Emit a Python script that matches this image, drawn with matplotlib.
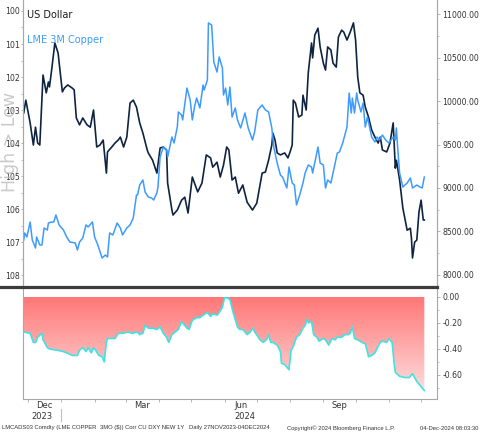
import matplotlib
matplotlib.use('Agg')
import matplotlib.pyplot as plt
import matplotlib.dates as mdates
from matplotlib.colors import LinearSegmentedColormap
from matplotlib.lines import Line2D
import numpy as np
import pandas as pd

start = pd.Timestamp('2023-11-27')

# US Dollar index (left axis, inverted) - days after start
usd_days = [0, 2, 6, 9, 11, 13, 15, 18, 21, 23, 24, 26, 29, 32, 36, 38, 41, 45, 47, 49,
            52, 55, 59, 62, 65, 68, 71, 74, 77, 78, 82, 85, 88, 90, 93, 96, 99, 102, 105, 108,
            111, 115, 116, 120, 124, 127, 130, 133, 134, 138, 139, 143, 147, 150, 153, 157, 159, 162, 166, 170,
            174, 176, 180, 183, 186, 189, 191, 194, 197, 200, 204, 208, 213, 217, 222, 225, 228, 231, 232, 234,
            236, 239, 243, 246, 248, 250, 251, 253, 256, 259, 260, 263, 265, 268, 269, 271, 274, 276, 279, 281,
            283, 286, 288, 291, 293, 296, 298, 301, 304, 307, 309, 311, 313, 316, 318, 321, 324, 327, 330, 332,
            334, 338, 341, 344, 346, 347, 350, 353, 357, 360, 361, 362, 364, 366, 368, 370, 372, 373]
usd_vals = [103.09, 102.70, 103.39, 104.06, 103.52, 104.00, 104.06, 101.94, 102.48, 102.15,
            102.30, 101.79, 100.97, 101.27, 102.45, 102.33, 102.24, 102.33, 102.39, 103.24,
            103.45, 103.24, 103.45, 103.52, 103.00, 104.12, 104.06, 103.91, 104.91, 104.27,
            104.12, 104.00, 103.91, 103.82, 104.12, 103.82, 102.79, 102.70, 102.91, 103.39,
            103.70, 104.21, 104.30, 104.52, 104.91, 104.15, 104.12, 104.21, 105.21, 106.03,
            106.18, 106.03, 105.73, 105.64, 106.12, 105.03, 105.21, 105.48, 105.21, 104.36,
            104.45, 104.73, 104.58, 105.03, 104.67, 104.12, 104.21, 105.12, 105.03, 105.52,
            105.27, 105.79, 106.03, 105.82, 104.91, 104.88, 104.52, 104.06, 103.70, 103.91,
            104.30, 104.36, 104.30, 104.45, 104.27, 104.06, 102.70, 102.79, 103.21, 103.15,
            102.55, 103.00, 101.85, 100.97, 101.42, 100.73, 100.52, 101.09, 101.58, 101.79,
            101.09, 101.18, 101.58, 101.70, 100.79, 100.58, 100.64, 100.88, 100.64, 100.36,
            100.88, 102.00, 102.48, 102.55, 102.91, 103.21, 103.61, 103.82, 104.00, 103.82,
            104.21, 104.27, 104.00, 103.39, 104.76, 104.52, 105.12, 105.97, 106.64, 106.58,
            106.88, 107.48, 107.00, 106.94, 106.09, 105.73, 106.33, 106.33]

# LME 3M Copper (right axis)
cu_days = [0, 1, 3, 6, 8, 11, 12, 15, 17, 19, 22, 23, 26, 28, 30, 33, 37, 40, 43, 48,
           50, 52, 55, 58, 60, 64, 66, 69, 73, 76, 78, 80, 83, 87, 90, 92, 96, 99, 102, 105,
           106, 108, 111, 113, 116, 119, 121, 124, 125, 127, 130, 133, 134, 138, 140, 143, 144, 147, 148, 152,
           155, 157, 159, 161, 164, 167, 168, 171, 172, 175, 177, 180, 182, 185, 186, 188, 190, 192, 194, 197,
           199, 202, 206, 209, 213, 215, 218, 222, 225, 228, 231, 233, 236, 239, 241, 245, 247, 250, 252, 254,
           257, 260, 262, 265, 268, 269, 274, 276, 279, 281, 283, 286, 288, 292, 294, 297, 301, 303, 305, 306,
           308, 310, 311, 314, 316, 318, 320, 324, 327, 329, 331, 334, 337, 340, 344, 346, 347, 348, 350, 353,
           357, 360, 362, 366, 369, 371, 373]
cu_vals = [8402, 8483, 8437, 8609, 8402, 8310, 8437, 8345, 8345, 8540, 8517, 8598, 8609, 8609, 8690,
           8575, 8517, 8437, 8379, 8368, 8287, 8379, 8425, 8575, 8552, 8609, 8437, 8345, 8195, 8230,
           8207, 8483, 8460, 8598, 8540, 8460, 8540, 8575, 8655, 8920, 8920, 9035, 9092, 8954, 8897,
           8885, 8862, 8943, 9012, 9356, 9471, 9437, 9356, 9586, 9517, 9701, 9874, 9839, 9782, 10149,
           10011, 9782, 9931, 10034, 9920, 10184, 10126, 10241, 10897, 10874, 10448, 10333, 10506, 10379, 10069,
           10149, 9954, 10161, 9816, 9920, 9782, 9690, 9862, 9690, 9552, 9644, 9897, 9954, 9897, 9874,
           9690, 9460, 9287, 9149, 9126, 9000, 9241, 9057, 9034, 8805, 8920, 9057, 9172, 9264, 9241,
           9172, 9471, 9287, 9264, 9000, 9092, 9057, 9172, 9402, 9414, 9517, 9701, 10092, 9862, 10034,
           9862, 10092, 10011, 9874, 9977, 9701, 9816, 9586, 9529, 9586, 9552, 9609, 9552, 9517, 9586,
           9552, 9690, 9494, 9172, 9011, 9057, 9115, 9000, 9034, 9011, 9000, 9126]

# 1Y rolling correlation copper vs DXY (bottom panel)
corr_days = [0, 6, 9, 11, 13, 17, 18, 22, 24, 31, 37, 40, 45, 50, 52, 55, 58, 60, 63, 65,
             67, 70, 73, 75, 77, 78, 81, 85, 88, 92, 97, 101, 106, 108, 111, 113, 116, 120, 124, 127,
             130, 133, 135, 138, 141, 144, 147, 149, 152, 154, 157, 161, 164, 167, 171, 174, 176, 180, 182, 185,
             187, 190, 192, 195, 199, 201, 204, 208, 211, 213, 216, 220, 223, 226, 228, 230, 232, 236, 239, 240,
             243, 245, 247, 249, 251, 254, 257, 260, 262, 264, 265, 268, 270, 273, 275, 279, 281, 284, 287, 290,
             292, 296, 299, 302, 304, 306, 308, 311, 315, 318, 320, 321, 324, 327, 330, 332, 334, 338, 340, 343,
             345, 346, 350, 355, 359, 362, 364, 366, 369, 371, 373]
corr_vals = [-0.27, -0.28, -0.35, -0.35, -0.31, -0.28, -0.33, -0.39, -0.40, -0.41, -0.42, -0.43, -0.45, -0.45,
             -0.41, -0.39, -0.42, -0.39, -0.43, -0.39, -0.41, -0.45, -0.46, -0.50, -0.35, -0.32, -0.32, -0.32,
             -0.28, -0.28, -0.27, -0.28, -0.27, -0.29, -0.28, -0.22, -0.24, -0.24, -0.25, -0.23, -0.28, -0.31,
             -0.35, -0.29, -0.27, -0.25, -0.19, -0.21, -0.24, -0.25, -0.18, -0.16, -0.16, -0.14, -0.12, -0.15,
             -0.13, -0.14, -0.12, -0.08, -0.005, -0.01, -0.02, -0.12, -0.23, -0.25, -0.25, -0.29, -0.27, -0.24,
             -0.28, -0.33, -0.35, -0.33, -0.29, -0.35, -0.35, -0.37, -0.42, -0.51, -0.52, -0.54, -0.56, -0.41,
             -0.38, -0.31, -0.29, -0.24, -0.22, -0.17, -0.20, -0.19, -0.29, -0.31, -0.34, -0.32, -0.33, -0.37,
             -0.32, -0.33, -0.31, -0.31, -0.29, -0.29, -0.28, -0.23, -0.32, -0.33, -0.35, -0.36, -0.42, -0.46,
             -0.45, -0.43, -0.38, -0.35, -0.34, -0.35, -0.32, -0.35, -0.52, -0.58, -0.61, -0.62, -0.62, -0.59,
             -0.62, -0.65, -0.68, -0.70, -0.72]

month_labels = ['Dec', 'Mar', 'Jun', 'Sep']
month_label_dates = ['2023-12-16', '2024-03-16', '2024-06-16', '2024-09-16']
year_labels = ['2023', '2024']
year_label_dates = ['2023-12-14', '2024-06-20']

footer_left = ['LMCADS03 Comdty (LME COPPER', '3MO ($)) Corr CU DXY NEW 1Y',
               'Daily 27NOV2023-04DEC2024', 'Copyright\u00a9 2024 Bloomberg Finance L.P.']
footer_left_pos = [2, 100, 189, 287]
footer_stamp = '04-Dec-2024 08:03:30'

usd_dates = start + pd.to_timedelta(usd_days, unit='D')
cu_dates = start + pd.to_timedelta(cu_days, unit='D')
corr_dates = start + pd.to_timedelta(corr_days, unit='D')

W, H = 480, 432
fig = plt.figure(figsize=(W / 100, H / 100), dpi=100)
fig.patch.set_facecolor('white')

x0 = mdates.date2num(start) - 0.65
x1 = mdates.date2num(start) + 384.8
grey = '#a8a8a8'
txt = '#333333'

# ---- top panel
ax1 = fig.add_axes([23 / W, 1 - 285 / H, 414 / W, 285 / H])
ax2 = ax1.twinx()
ax1.plot(usd_dates, usd_vals, color='#0f2440', lw=1.2, zorder=3)
ax2.plot(cu_dates, cu_vals, color='#3d9bff', lw=1.1)
ax1.set_xlim(x0, x1)
ax1.set_ylim(108.30, 99.667)
ax2.set_ylim(7885, 11161)

for a in (ax1, ax2):
    for s in ('top', 'bottom'):
        a.spines[s].set_visible(False)
    a.spines['left'].set_color(grey)
    a.spines['right'].set_color(grey)
    a.spines['left'].set_linewidth(0.8)
    a.spines['right'].set_linewidth(0.8)
    a.tick_params(axis='x', bottom=False, labelbottom=False)

ax1.set_yticks(np.arange(100, 109, 1))
ax1.set_yticks(np.arange(100.5, 108, 1), minor=True)
ax1.yaxis.set_major_formatter(matplotlib.ticker.FormatStrFormatter('%d'))
ax1.tick_params(axis='y', which='major', length=1.8, width=0.6, color=grey,
                labelcolor=txt, labelsize=5.6, pad=0.6)
ax1.tick_params(axis='y', which='minor', length=1.2, width=0.5, color=grey)

ax2.set_yticks(np.arange(8000, 11001, 500))
ax2.set_yticks(np.arange(8250, 11000, 500), minor=True)
ax2.yaxis.set_major_formatter(matplotlib.ticker.FormatStrFormatter('%.2f'))
ax2.tick_params(axis='y', which='major', length=2.2, width=0.6, color=grey,
                labelcolor=txt, labelsize=5.6, pad=1.6)
ax2.tick_params(axis='y', which='minor', length=1.4, width=0.5, color=grey)

ax1.text(4 / 414, 1 - 15 / 285, 'US Dollar', transform=ax1.transAxes,
         fontsize=7, color='#1a1a1a', va='center', ha='left')
ax1.text(4 / 414, 1 - 40 / 285, 'LME 3M Copper', transform=ax1.transAxes,
         fontsize=7, color='#3d9bff', va='center', ha='left')
# big watermark-like axis note, drawn behind the tick labels as in the source
fig.text(10 / W, 1 - 142 / H, 'High > Low', rotation=90, fontsize=12.5,
         color='#bdbdbd', alpha=0.8, ha='center', va='center', zorder=0)

# separator bar
fig.add_artist(Line2D([0, 437 / W], [1 - 286.5 / H] * 2, lw=2.3, color='#3c3c3c'))

# ---- bottom panel
ax3 = fig.add_axes([23 / W, 1 - 399 / H, 414 / W, 111 / H])
poly = ax3.fill_between(corr_dates, corr_vals, 0, facecolor='none', lw=0)
cmap = LinearSegmentedColormap.from_list('grad', ['#ff7777', '#ffdcdc'])
grad = np.linspace(0, 1, 256).reshape(-1, 1)
im = ax3.imshow(grad, cmap=cmap, aspect='auto', origin='upper', zorder=1,
                extent=[x0, x1, min(corr_vals), 0])
im.set_clip_path(poly.get_paths()[0], ax3.transData)
ax3.plot(corr_dates, corr_vals, color='#3fe3e3', lw=1.2, zorder=3)
ax3.set_xlim(x0, x1)
ax3.set_ylim(-0.785, 0.069)

ax3.spines['top'].set_visible(False)
for s in ('left', 'right', 'bottom'):
    ax3.spines[s].set_color(grey)
    ax3.spines[s].set_linewidth(0.8)
ax3.yaxis.tick_right()
ax3.set_yticks([0, -0.2, -0.4, -0.6])
ax3.set_yticks([-0.1, -0.3, -0.5, -0.7], minor=True)
ax3.yaxis.set_major_formatter(matplotlib.ticker.FormatStrFormatter('%.2f'))
ax3.tick_params(axis='y', which='major', length=2.2, width=0.6, color=grey,
                labelcolor=txt, labelsize=5.6, pad=1.6)
ax3.tick_params(axis='y', which='minor', length=1.4, width=0.5, color=grey)

month_starts = pd.date_range('2023-12-01', '2024-12-01', freq='MS')
ax3.set_xticks(mdates.date2num(month_starts))
ax3.tick_params(axis='x', which='major', length=2.2, width=0.6, color=grey,
                labelbottom=False)

xt = ax3.get_xaxis_transform()
for lab, d in zip(month_labels, month_label_dates):
    ax3.text(mdates.date2num(pd.Timestamp(d)), -7 / 111, lab, transform=xt,
             fontsize=6, color=txt, ha='center', va='center')
for lab, d in zip(year_labels, year_label_dates):
    ax3.text(mdates.date2num(pd.Timestamp(d)), -17.5 / 111, lab, transform=xt,
             fontsize=6, color=txt, ha='center', va='center')
jan = mdates.date2num(pd.Timestamp('2024-01-01'))
ax3.plot([jan, jan], [-10 / 111, -22 / 111], transform=xt, clip_on=False,
         color='#c0c0c0', lw=0.8)

for s, px in zip(footer_left, footer_left_pos):
    fig.text(px / W, 1 - 428 / H, s, fontsize=4.2, color=txt, ha='left', va='center',
             family='Liberation Sans')
fig.text(478 / W, 1 - 428 / H, footer_stamp, fontsize=4.2, color=txt, ha='right',
         va='center', family='Liberation Sans')

fig.savefig('out.png', dpi=100, facecolor='white')
